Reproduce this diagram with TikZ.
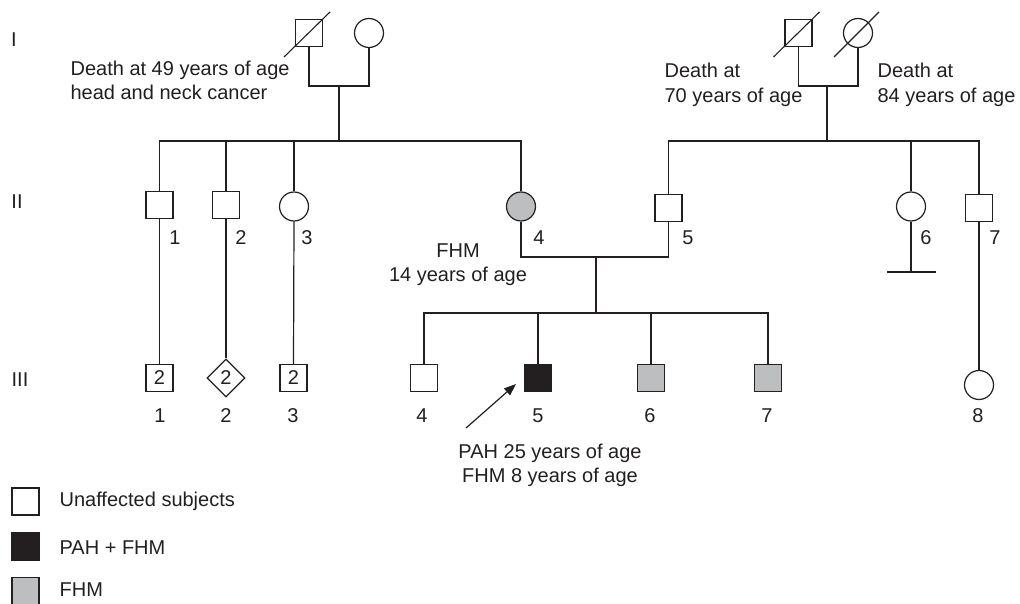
\documentclass[tikz,border=0pt]{standalone}
\usepackage{fontspec}
\setmainfont{Liberation Sans}
\usetikzlibrary{shapes.geometric,arrows.meta}
\definecolor{ink}{HTML}{231F20}
\definecolor{fhmgray}{HTML}{BCBEC0}
\begin{document}
\begin{tikzpicture}[x=1pt,y=-1pt,line width=1.2pt,color=ink,
  male/.style={rectangle,draw,minimum size=27pt,inner sep=0pt,font=\fontsize{20}{24}\selectfont},
  female/.style={circle,draw,minimum size=29pt,inner sep=0pt},
  unknown/.style={diamond,draw,minimum width=38pt,minimum height=38pt,inner sep=0pt,aspect=1,font=\fontsize{20}{24}\selectfont},
  fhmfill/.style={fill=fhmgray},
  pahfill/.style={fill=ink},
  txt/.style={font=\fontsize{20}{24}\selectfont,inner sep=0pt},
  num/.style={txt,anchor=base},
  lbl/.style={txt,anchor=base west},
  ctr/.style={txt,anchor=base},
  slash/.style={line width=1.1pt}]
\useasboundingbox (0,0) rectangle (1020,604);

% generation labels
\node[txt] (gI) at (14,40) {I};
\node[txt] (gII) at (17,202) {II};
\node[txt] (gIII) at (20,380) {III};

% generation I
\node[male] (I1) at (309,33) {};
\node[female] (I2) at (369,33) {};
\node[male] (I3) at (798.5,33) {};
\node[female] (I4) at (858,33) {};
\draw[slash] ([shift={(-25,24)}]I1.center) -- ([shift={(21,-21)}]I1.center);
\draw[slash] ([shift={(-25,24)}]I3.center) -- ([shift={(21,-21)}]I3.center);
\draw[slash] ([shift={(-24,24)}]I4.center) -- ([shift={(21,-21)}]I4.center);

\node[lbl] (t1a) at (70,76) {Death at 49 years of age};
\node[lbl] (t1b) at (70,100) {head and neck cancer};
\node[lbl] (t2a) at (664,78) {Death at};
\node[lbl] (t2b) at (664,103) {70 years of age};
\node[lbl] (t3a) at (877,78) {Death at};
\node[lbl] (t3b) at (877,103) {84 years of age};

% generation II
\node[male] (II1) at (159.5,205) {};
\node[male] (II2) at (226,205) {};
\node[female] (II3) at (294,206.5) {};
\node[female,fhmfill] (II4) at (521,206.5) {};
\node[male] (II5) at (668.5,208) {};
\node[female] (II6) at (911,206.5) {};
\node[male] (II7) at (979,208) {};

\node[num] (n21) at (175,244) {1};
\node[num] (n22) at (241,244) {2};
\node[num] (n23) at (307,244) {3};
\node[num] (n24) at (539,244) {4};
\node[num] (n25) at (688,244) {5};
\node[num] (n26) at (926,244) {6};
\node[num] (n27) at (995,244) {7};

\node[ctr] (f14a) at (458,258) {FHM};
\node[ctr] (f14b) at (458,281) {14 years of age};

% generation III
\node[male] (III1) at (159.5,378) {2};
\node[unknown] (III2) at (226,378) {2};
\node[male] (III3) at (293.5,378) {2};
\node[male] (III4) at (424,378) {};
\node[male,pahfill] (III5) at (538,378) {};
\node[male,fhmfill] (III6) at (651,378) {};
\node[male,fhmfill] (III7) at (768,378) {};
\node[female] (III8) at (979,385) {};

\node[num] (n31) at (160,422) {1};
\node[num] (n32) at (226,422) {2};
\node[num] (n33) at (293,422) {3};
\node[num] (n34) at (422,422) {4};
\node[num] (n35) at (538,422) {5};
\node[num] (n36) at (650,422) {6};
\node[num] (n37) at (767,422) {7};
\node[num] (n38) at (978,422) {8};

\node[ctr] (pa) at (550,458) {PAH 25 years of age};
\node[ctr] (pb) at (550,482) {FHM 8 years of age};

% connectors
\coordinate (m1) at (339,86);
\coordinate (s1) at (339,141);
\draw (I1.south) |- (m1) -| (I2.south);
\draw (m1) -- (s1);
\draw (II1.north) |- (s1);
\draw (II4.north) |- (s1);
\draw (II2.north) -- (II2.north |- s1);
\draw (II3.north) -- (II3.north |- s1);

\coordinate (m2) at (827,86);
\coordinate (s2) at (827,141);
\draw (I3.south) |- (m2) -| (I4.south);
\draw (m2) -- (s2);
\draw (II5.north) |- (s2);
\draw (II7.north) |- (s2);
\draw (II6.north) -- (II6.north |- s2);

\coordinate (m3) at (596,257);
\coordinate (s3) at (596,313);
\draw (II4.south) |- (m3) -| (II5.south);
\draw (m3) -- (s3);
\draw (III4.north) |- (s3);
\draw (III7.north) |- (s3);
\draw (III5.north) -- (III5.north |- s3);
\draw (III6.north) -- (III6.north |- s3);

\draw (II1.south) -- (III1.north);
\draw (II2.south) -- (III2.north);
\draw (II3.south) -- (III3.north);
\draw (II7.south) -- (III8.north);

\coordinate (nb) at (911,272);
\draw (II6.south) -- (nb);
\draw ([xshift=-24pt]nb) -- ([xshift=25pt]nb);

\coordinate (arrS) at (466,428);
\coordinate (arrE) at (516,384);
\draw[-{Triangle[length=12pt,width=9pt]}] (arrS) -- (arrE);

% legend
\node[male] (lg1) at (25.5,501.5) {};
\node[male,pahfill] (lg2) at (25.5,546.5) {};
\node[male,fhmfill] (lg3) at (25.5,591) {};
\node[lbl] (lt1) at (59,506) {Unaffected subjects};
\node[lbl] (lt2) at (59,554) {PAH + FHM};
\node[lbl] (lt3) at (59,596) {FHM};
\end{tikzpicture}
\end{document}
